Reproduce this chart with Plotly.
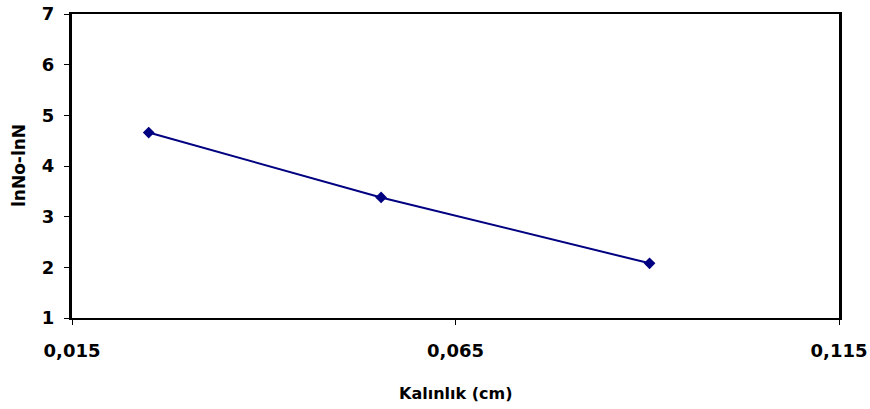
import plotly.graph_objects as go

x_vals = [0.025, 0.0553, 0.0903]
y_vals = [4.66, 3.38, 2.08]
x_ticks = [0.015, 0.065, 0.115]
y_ticks = [1, 2, 3, 4, 5, 6, 7]
x_title = "Kalınlık (cm)"
y_title = "lnNo-lnN"

FONT = "DejaVu Sans, Liberation Sans, Arial"

fig = go.Figure()
fig.add_trace(go.Scatter(
    x=x_vals, y=y_vals, mode="lines+markers",
    line=dict(color="#000080", width=2),
    marker=dict(symbol="diamond", size=9, color="#000080"),
    showlegend=False,
))

fig.update_layout(
    width=870, height=409,
    margin=dict(l=72, r=31, t=14, b=91),
    paper_bgcolor="white", plot_bgcolor="white",
    separators=",.",
    font=dict(family=FONT, size=18, color="#000"),
    xaxis=dict(
        range=[0.015, 0.115], tickvals=x_ticks, tickformat=".3f",
        automargin=False,
        showgrid=False, zeroline=False,
        showline=True, linecolor="#000", linewidth=2, mirror=True,
        ticks="outside", ticklen=5, tickcolor="#000", tickwidth=1,
        tickfont=dict(family=FONT, size=18, color="#000", weight="bold"),
        ticklabelstandoff=10,
    ),
    yaxis=dict(
        range=[1, 7], tickvals=y_ticks,
        automargin=False,
        showgrid=False, zeroline=False,
        showline=True, linecolor="#000", linewidth=3, mirror=True,
        ticks="outside", ticklen=5, tickcolor="#000", tickwidth=1,
        tickfont=dict(family=FONT, size=18, color="#000", weight="bold"),
        ticklabelstandoff=6,
    ),
    annotations=[
        dict(text=x_title, xref="paper", yref="paper", x=0.5, y=0,
             xanchor="center", yanchor="middle", yshift=-75, showarrow=False,
             font=dict(family=FONT, size=16, color="#000", weight="bold")),
        dict(text=y_title, xref="paper", yref="paper", x=0, y=0.5,
             xanchor="center", yanchor="middle", xshift=-53, textangle=-90,
             showarrow=False,
             font=dict(family=FONT, size=17, color="#000", weight="bold")),
    ],
)

fig.write_html("out.html")
